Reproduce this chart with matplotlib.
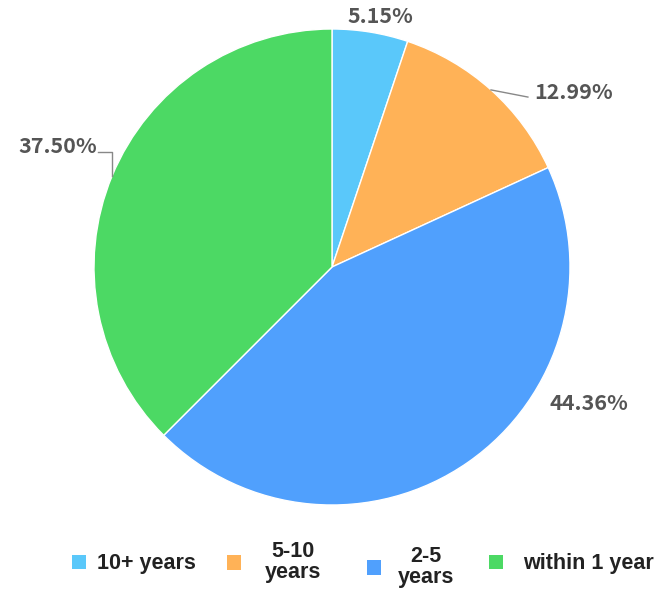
import numpy as np
import matplotlib.pyplot as plt
from matplotlib.patches import Patch

categories = ["10+ years", "5-10\nyears", "2-5\nyears", "within 1 year"]
shares = [5.15, 12.99, 44.36, 37.50]
colors = ["#5ac8fa", "#ffb257", "#50a0fd", "#4cd964"]

W, H = 656, 593
fig = plt.figure(figsize=(W / 100, H / 100), dpi=100)
ax = fig.add_axes([94 / W, 88 / H, 476 / W, 476 / H])

wedges, _ = ax.pie(shares, colors=colors, startangle=90, counterclock=False,
                   radius=1.0, wedgeprops=dict(edgecolor="white", linewidth=1))
ax.set_xlim(-1, 1)
ax.set_ylim(-1, 1)
ax.set_aspect("equal")

label_kw = dict(fontsize=15.5, color="#555555", fontweight="bold",
                family=["Noto Sans CJK SC", "DejaVu Sans"])

# per-slice label placement: (angle nudge in degrees, radius, ha, leader)
placement = [(-1.6, 1.07, "center", None),
             (0, 1.0, "left", "straight"),
             (27.2, 1.22, "center", None),
             (0, 1.0, "right", "elbow")]

for w, val, (nudge, r, ha, leader) in zip(wedges, shares, placement):
    mid = np.deg2rad((w.theta1 + w.theta2) / 2 + nudge)
    x, y = r * np.cos(mid), r * np.sin(mid)
    txt = f"{val:.2f}%"
    if leader == "straight":
        x2, y2 = x + 0.155, y - 0.03
        ax.plot([x, x2], [y, y2], color="#888888", lw=1, clip_on=False)
        ax.text(x2 + 0.025, y2 + 0.02, txt, ha="left", va="center", **label_kw)
    elif leader == "elbow":
        y2 = y + 0.1
        ax.plot([x, x, x - 0.06], [y, y2, y2], color="#888888", lw=1, clip_on=False)
        ax.text(x - 0.065, y2 + 0.025, txt, ha="right", va="center", **label_kw)
    else:
        ax.text(x, y, txt, ha=ha, va="center", **label_kw)

# legend entries laid out one by one: (left edge px, centre y px, text gap in em)
legend_slots = [(72, 564, 0.51), (227, 562, 1.12), (367, 567, 0.79), (489, 564, 0.93)]
for cat, c, (lx, ly, gap) in zip(categories, colors, legend_slots):
    leg = fig.legend([Patch(facecolor=c, edgecolor="none")], [cat],
                     loc="center left", bbox_to_anchor=(lx / W, 1 - ly / H),
                     frameon=False, borderpad=0, borderaxespad=0,
                     handlelength=0.65, handleheight=0.65, handletextpad=gap,
                     prop=dict(family="Liberation Sans", weight="bold", size=15.5))
    for t in leg.get_texts():
        t.set_multialignment("center")
        t.set_color("#222222")
        t.set_linespacing(1.0)

fig.savefig("out.png", dpi=100)
